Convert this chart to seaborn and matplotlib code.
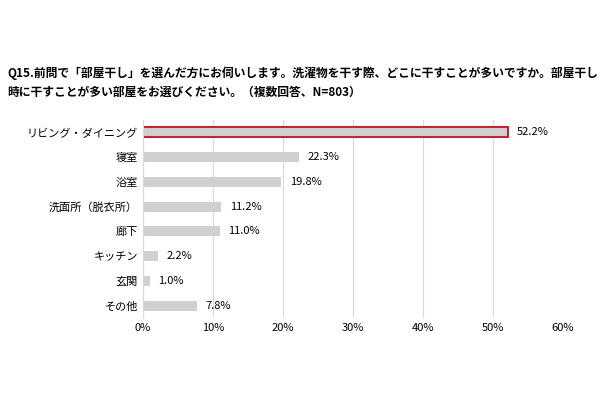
import matplotlib
matplotlib.use("Agg")
import matplotlib.pyplot as plt
import seaborn as sns
import pandas as pd

plt.rcParams["font.family"] = "Noto Sans CJK JP"

# データ
categories = ["リビング・ダイニング", "寝室", "浴室", "洗面所（脱衣所）", "廊下", "キッチン", "玄関", "その他"]
values = [52.2, 22.3, 19.8, 11.2, 11.0, 2.2, 1.0, 7.8]
xticks = [0, 10, 20, 30, 40, 50, 60]

df = pd.DataFrame({"cat": categories, "val": values})

fig = plt.figure(figsize=(6, 4), dpi=100)
ax = fig.add_axes([0.238, 0.205, 0.700, 0.495])
sns.barplot(data=df, x="val", y="cat", color="#d0d0d0", width=0.4, saturation=1, ax=ax)

# 最初のバーを赤枠で強調
first = ax.patches[0]
first.set_edgecolor("#c0282d")
first.set_linewidth(1.5)

for p, v in zip(ax.patches, values):
    ax.text(p.get_width() + 1.2, p.get_y() + p.get_height() / 2, f"{v:.1f}%",
            va="center", ha="left", fontsize=8)

ax.set_xlim(0, 60)
ax.set_xticks(xticks)
ax.set_xticklabels([f"{t}%" for t in xticks], fontsize=8)
ax.tick_params(axis="y", labelsize=8, length=0)
ax.tick_params(axis="x", length=0)
ax.set_xlabel("")
ax.set_ylabel("")
ax.grid(axis="x", color="#d9d9d9", linewidth=0.8)
ax.set_axisbelow(True)
for s in ["top", "right", "bottom"]:
    ax.spines[s].set_visible(False)
ax.spines["left"].set_color("#d9d9d9")

fig.text(0.012, 0.835, "Q15.前問で「部屋干し」を選んだ方にお伺いします。洗濯物を干す際、どこに干すことが多いですか。部屋干し\n時に干すことが多い部屋をお選びください。（複数回答、N=803）",
         fontsize=8.5, fontweight="bold", va="top", linespacing=1.6)

fig.savefig("out.png", dpi=100)
